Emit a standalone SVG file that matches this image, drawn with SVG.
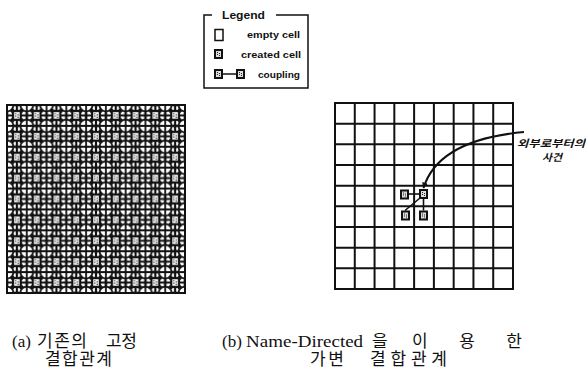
<svg xmlns="http://www.w3.org/2000/svg" xmlns:xlink="http://www.w3.org/1999/xlink" width="586" height="376" viewBox="0 0 586 376">
<style>
.lg{font-family:"Liberation Sans",Arial,sans-serif;font-weight:bold;fill:#111}
.cap{font-family:"Liberation Serif","Times New Roman","Noto Sans CJK KR",serif;font-size:17px;fill:#111}
.ko{font-family:"Noto Sans CJK KR",sans-serif;font-size:17px;fill:#111}
.kl{font-family:"Noto Sans CJK KR",sans-serif;font-size:10px;font-weight:bold;font-style:italic;fill:#111}
.grid{fill:none;stroke:#111;stroke-width:2}
.cn{fill:none;stroke:#111;stroke-width:1.6}
</style>
<defs>
<g id="cell"><rect width="9" height="10" fill="#111"/><rect x="2" y="2" width="5" height="6" fill="#ddd"/><path d="M3,3h1v1h-1zM5,4h1v1h-1zM3,5h1v1h-1zM5,6h1v1h-1z" fill="#222"/></g>
<g id="cell2"><rect width="10" height="11" fill="#111"/><rect x="2.2" y="2.2" width="5.6" height="6.6" fill="#f4f4f4"/><path d="M3.2,3.2h1.2v1.2h-1.2zM5.6,4.4h1.2v1.2h-1.2zM3.2,5.6h1.2v1.2h-1.2zM5.6,6.8h1.2v1.2h-1.2z" fill="#333"/></g>
<g id="ring"><circle r="6.4" fill="#fff" stroke="#111" stroke-width="1.8"/><path d="M-6.4,0H6.4M0,-6.4V6.4" stroke="#111" stroke-width="1.8"/></g>
<pattern id="lat" patternUnits="userSpaceOnUse" x="7" y="105" width="19.778" height="20.889">
<rect width="19.778" height="20.889" fill="#fff"/>
<path d="M0,0L19.778,20.889M19.778,0L0,20.889" stroke="#111" stroke-width="4.2"/>
<path d="M0,10.444H19.778M9.889,0V20.889" stroke="#111" stroke-width="2.2"/>
<rect width="19.778" height="20.889" fill="none" stroke="#111" stroke-width="2.6"/>
<use xlink:href="#ring" x="0" y="0"/><use xlink:href="#ring" x="19.778" y="0"/>
<use xlink:href="#ring" x="0" y="20.889"/><use xlink:href="#ring" x="19.778" y="20.889"/>
<use xlink:href="#cell2" x="4.9" y="4.9"/>
</pattern>
<marker id="ah" viewBox="0 0 10 10" refX="9" refY="5" markerWidth="6" markerHeight="6" orient="auto" markerUnits="userSpaceOnUse"><path d="M0,0L10,5L0,10z" fill="#111"/></marker>
</defs>
<rect width="586" height="376" fill="#fff"/>

<g id="legend">
<path d="M212,15H204V88H308V15H276" fill="none" stroke="#111" stroke-width="1.5"/>
<text class="lg" x="222" y="19" font-size="11.5" textLength="43" lengthAdjust="spacingAndGlyphs">Legend</text>
<rect x="215" y="29.5" width="8" height="11" fill="#fff" stroke="#111" stroke-width="1.5"/>
<text class="lg" x="247" y="38" font-size="8.5" textLength="53" lengthAdjust="spacingAndGlyphs">empty cell</text>
<use xlink:href="#cell" x="214" y="49"/>
<text class="lg" x="241" y="58" font-size="8.5" textLength="60" lengthAdjust="spacingAndGlyphs">created cell</text>
<use xlink:href="#cell" x="214" y="69"/>
<use xlink:href="#cell" x="236" y="69"/>
<path d="M223,74H236" stroke="#111" stroke-width="1.5"/>
<text class="lg" x="258" y="78" font-size="8.5" textLength="42" lengthAdjust="spacingAndGlyphs">coupling</text>
</g>

<g id="fixed-grid">
<rect x="7" y="105" width="178" height="188" fill="url(#lat)"/>
<rect x="7" y="105" width="178" height="188" class="grid"/>
</g>

<g id="dynamic-grid">
<path class="grid" d="M335,103H513V289H335ZM354.78,103V289M374.56,103V289M394.33,103V289M414.11,103V289M433.89,103V289M453.67,103V289M473.44,103V289M493.22,103V289M335,123.67H513M335,144.33H513M335,165H513M335,185.67H513M335,206.33H513M335,227H513M335,247.67H513M335,268.33H513"/>
</g>
<g id="cell-a"><use xlink:href="#cell" x="400" y="189.5"/></g>
<g id="cell-b"><use xlink:href="#cell" x="419" y="189"/></g>
<g id="cell-c"><use xlink:href="#cell" x="401" y="210.5"/></g>
<g id="cell-d"><use xlink:href="#cell" x="419" y="210.5"/></g>

<g id="connectors">
<path class="cn" d="M409,194H419"/>
<path class="cn" d="M405,210.5L420,198"/>
<path class="cn" d="M423.5,210.5V199"/>
<path d="M524,132C470,137 434,154 423.5,188" fill="none" stroke="#111" stroke-width="2" marker-end="url(#ah)"/>
</g>

<g id="event-label">
<text class="kl" x="517" y="147" textLength="68" lengthAdjust="spacingAndGlyphs">외부로부터의</text>
<text class="kl" x="542" y="161" textLength="20" lengthAdjust="spacingAndGlyphs">사건</text>
</g>

<g id="caption-a">
<text class="cap" x="12" y="347">(a)</text>
<text class="ko" x="37" y="347" textLength="50" lengthAdjust="spacing">기존의</text>
<text class="ko" x="106" y="347" textLength="31" lengthAdjust="spacing">고정</text>
<text class="ko" x="45" y="365" textLength="67" lengthAdjust="spacing">결합관계</text>
</g>
<g id="caption-b">
<text class="cap" x="222" y="347">(b) <tspan textLength="117" lengthAdjust="spacingAndGlyphs">Name-Directed</tspan></text>
<text class="ko" x="372" y="347">을</text>
<text class="ko" x="412" y="347" textLength="110" lengthAdjust="spacing">이용한</text>
<text class="ko" x="310" y="365" textLength="34" lengthAdjust="spacing">가변</text>
<text class="ko" x="370" y="365" textLength="77" lengthAdjust="spacing">결합관계</text>
</g>
</svg>
